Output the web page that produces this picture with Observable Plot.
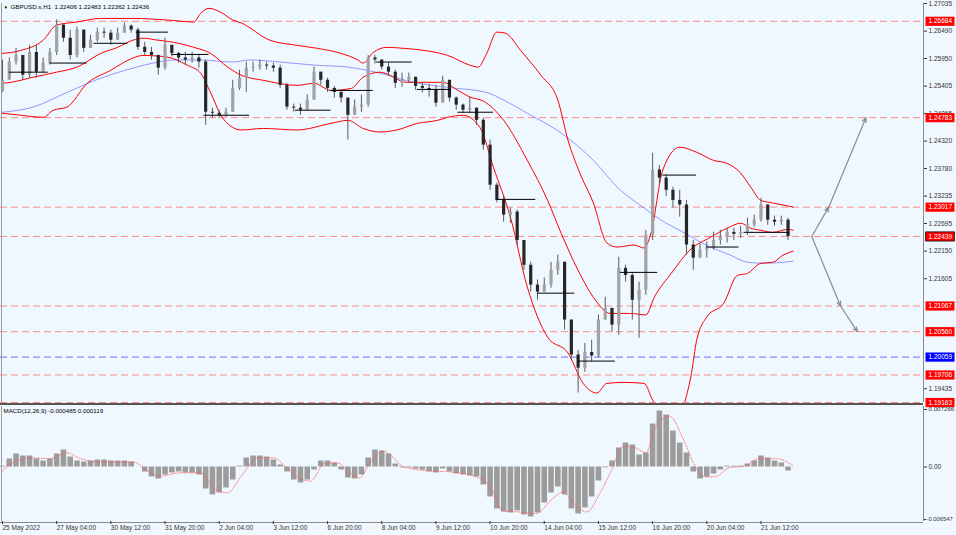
<!DOCTYPE html>
<html><head><meta charset="utf-8">
<script src="https://cdn.jsdelivr.net/npm/d3@7"></script>
<script src="https://cdn.jsdelivr.net/npm/@observablehq/plot@0.6"></script>
<style>
html,body{margin:0;padding:0;background:#f0f8ff;}
#wrap{width:956px;height:535px;background:#f0f8ff;overflow:hidden;}
#wrap svg{display:block;}
</style></head>
<body><div id="wrap"></div>
<script>
// ---------- DATA (H1 GBPUSD, sampled every 4 bars) ----------
const firstOpen = 1.2530;
const closes = [
1.2552,1.2588,1.2601,1.2562,1.2607,1.2568,1.2586,1.2607,1.2661,1.2635,
1.2601,1.2651,1.2615,1.2631,1.2647,1.2645,1.2631,1.2645,1.2659,1.2651,
1.2617,1.2607,1.2601,1.2576,1.2621,1.2605,1.2596,1.2592,1.2596,1.2588,
1.2489,1.2487,1.2483,1.2489,1.2536,1.2556,1.2576,1.2578,1.2582,1.2580,
1.2576,1.2542,1.2499,1.2497,1.2493,1.2513,1.2568,1.2552,1.2536,1.2528,
1.2517,1.2483,1.2499,1.2503,1.2596,1.2592,1.2578,1.2568,1.2546,1.2552,
1.2558,1.2540,1.2536,1.2532,1.2507,1.2552,1.2517,1.2503,1.2493,1.2497,
1.2473,1.2424,1.2345,1.2315,1.2286,1.2292,1.2236,1.2187,1.2148,1.2134,
1.2148,1.2177,1.2193,1.2079,1.2010,1.1984,1.2015,1.2008,1.2079,1.2102,
1.2069,1.2181,1.2167,1.2118,1.2138,1.2246,1.2375,1.2359,1.2335,1.2315,
1.2306,1.2227,1.2201,1.2217,1.2221,1.2236,1.2242,1.2252,1.2248,1.2252,
1.2266,1.2276,1.2306,1.2276,1.2272,1.2276,1.22436];
const highs = [
1.2592,1.2596,1.2615,1.2601,1.2621,1.2621,1.2596,1.2615,1.2671,1.2661,
1.2651,1.2657,1.2651,1.2641,1.2655,1.2655,1.2651,1.2655,1.2665,1.2661,
1.2655,1.2627,1.2617,1.2601,1.2635,1.2621,1.2607,1.2607,1.2607,1.2601,
1.2592,1.2497,1.2493,1.2497,1.2552,1.2572,1.2588,1.2588,1.2592,1.2588,
1.2586,1.2582,1.2546,1.2505,1.2505,1.2523,1.2578,1.2568,1.2556,1.2540,
1.2532,1.2513,1.2513,1.2523,1.2601,1.2601,1.2592,1.2586,1.2572,1.2566,
1.2566,1.2552,1.2546,1.2544,1.2542,1.2560,1.2552,1.2519,1.2505,1.2519,
1.2497,1.2477,1.2434,1.2349,1.2325,1.2300,1.2296,1.2236,1.2193,1.2158,
1.2162,1.2193,1.2207,1.2193,1.2079,1.2019,1.2033,1.2039,1.2089,1.2124,
1.2089,1.2203,1.2187,1.2173,1.2154,1.2256,1.2408,1.2384,1.2365,1.2341,
1.2335,1.2315,1.2236,1.2229,1.2233,1.2252,1.2256,1.2260,1.2260,1.2264,
1.2280,1.2286,1.2319,1.2300,1.2284,1.2284,1.2280];
const lows = [
1.2528,1.2568,1.2582,1.2552,1.2556,1.2556,1.2572,1.2582,1.2601,1.2627,
1.2592,1.2596,1.2607,1.2615,1.2627,1.2635,1.2621,1.2635,1.2647,1.2645,
1.2611,1.2601,1.2592,1.2562,1.2572,1.2598,1.2586,1.2582,1.2586,1.2576,
1.2463,1.2477,1.2477,1.2479,1.2489,1.2532,1.2528,1.2568,1.2572,1.2572,
1.2568,1.2536,1.2493,1.2489,1.2483,1.2493,1.2513,1.2542,1.2528,1.2517,
1.2507,1.2434,1.2483,1.2489,1.2499,1.2584,1.2572,1.2560,1.2536,1.2538,
1.2546,1.2532,1.2527,1.2519,1.2499,1.2513,1.2509,1.2493,1.2487,1.2487,
1.2463,1.2414,1.2335,1.2310,1.2272,1.2270,1.2227,1.2177,1.2134,1.2118,
1.2134,1.2142,1.2167,1.2059,1.2000,1.1935,1.1976,1.1996,1.2004,1.2083,
1.2055,1.2049,1.2154,1.2079,1.2043,1.2128,1.2236,1.2345,1.2323,1.2300,
1.2282,1.2207,1.2177,1.2201,1.2201,1.2217,1.2227,1.2231,1.2236,1.2240,
1.2246,1.2262,1.2272,1.2266,1.2264,1.2266,1.2236];
const barsPerSample = 4;

// Bollinger bands & moving average: [bar, price]
const bbUpper = [[0,1.2605],[11,1.2611],[24,1.2631],[32,1.2661],[44,1.2667],[58,1.2674],[77,1.2674],[97,1.2671],[113,1.2667],[117,1.2684],[122,1.2694],[129,1.2686],[136,1.2671],[141,1.2665],[158,1.2631],[174,1.2621],[186,1.2615],[200,1.2605],[210,1.2592],[213,1.2586],[219,1.2607],[227,1.2617],[237,1.2615],[249,1.2611],[263,1.2601],[276,1.2582],[281,1.2578],[286,1.2605],[292,1.2647],[297,1.2645],[306,1.2611],[318,1.2562],[328,1.2513],[334,1.2434],[341,1.2369],[349,1.2310],[357,1.2231],[363,1.2223],[373,1.2227],[379,1.2221],[383,1.2250],[390,1.2375],[400,1.2420],[410,1.2410],[420,1.2394],[428,1.2388],[436,1.2369],[442,1.2341],[448,1.2315],[455,1.2310],[467,1.2302]];
const bbMiddle = [[0,1.2546],[5,1.2548],[18,1.2558],[32,1.2568],[44,1.2578],[58,1.2605],[68,1.2617],[77,1.2631],[83,1.2635],[92,1.2631],[101,1.2627],[113,1.2617],[123,1.2605],[133,1.2578],[141,1.2562],[154,1.2552],[174,1.2542],[184,1.2546],[194,1.2532],[206,1.2536],[213,1.2558],[223,1.2568],[239,1.2548],[260,1.2548],[269,1.2532],[276,1.2519],[284,1.2511],[296,1.2473],[310,1.2394],[322,1.2315],[330,1.2250],[340,1.2177],[349,1.2124],[359,1.2092],[371,1.2092],[380,1.2089],[385,1.2124],[395,1.2171],[406,1.2217],[418,1.2242],[428,1.2260],[436,1.2270],[442,1.2260],[448,1.2256],[455,1.2252],[464,1.2258],[467,1.2256]];
const bbLower = [[0,1.2487],[11,1.2483],[24,1.2479],[30,1.2493],[38,1.2499],[50,1.2546],[64,1.2572],[71,1.2586],[77,1.2596],[83,1.2601],[97,1.2598],[109,1.2582],[117,1.2566],[123,1.2527],[129,1.2483],[136,1.2459],[141,1.2454],[154,1.2457],[174,1.2454],[194,1.2467],[204,1.2473],[213,1.2457],[223,1.2450],[233,1.2454],[245,1.2467],[257,1.2473],[263,1.2479],[272,1.2483],[282,1.2459],[290,1.2380],[300,1.2282],[310,1.2144],[322,1.2045],[334,1.2014],[343,1.1954],[351,1.1935],[357,1.1954],[367,1.1956],[379,1.1954],[384,1.1921],[392,1.1891],[400,1.1885],[403,1.1917],[407,1.1975],[410,1.2039],[416,1.2085],[426,1.2112],[434,1.2167],[440,1.2171],[448,1.2191],[455,1.2193],[461,1.2207],[467,1.2215]];
const maLine = [[0,1.2489],[18,1.2499],[38,1.2528],[58,1.2556],[77,1.2576],[92,1.2588],[101,1.2592],[117,1.2592],[136,1.2588],[146,1.2592],[164,1.2588],[184,1.2582],[204,1.2578],[223,1.2566],[243,1.2548],[263,1.2538],[286,1.2528],[296,1.2513],[310,1.2487],[330,1.2448],[349,1.2394],[365,1.2335],[371,1.2319],[379,1.2300],[389,1.2276],[400,1.2256],[418,1.2223],[430,1.2207],[440,1.2193],[450,1.2191],[467,1.2195]];

// daily pivot segments
const segStart = [4,28,54,79,100,119,173,194,221,245,269,292,316,340,365,390,416,438];
const segEnd   = [27,50,74,98,122,146,194,219,242,265,290,315,338,362,387,410,435,465];
const segPrice = [1.2568,1.2586,1.2625,1.2647,1.2603,1.2483,1.2493,1.2532,1.2588,1.2534,1.2489,1.2317,1.2132,1.1998,1.2173,1.2365,1.2223,1.2252];

// horizontal levels
const redLevels = [1.26684,1.24783,1.23017,1.22439,1.21067,1.20560,1.19706,1.19163];
const blueLevels = [1.20059];
const bidLevel = 1.22439;

// projection arrows
const arrowFrom = [478,1.22439];
const arrowUp = [[488,1.23017],[510,1.24783]];
const arrowDown = [[495,1.21067],[505,1.20560]];

// price axis ticks
const priceTicks = [1.27035,1.26490,1.25950,1.25405,1.24865,1.24320,1.23780,1.23235,1.22695,1.22150,1.21605,1.19435];

// MACD histogram (per sample) and signal line [bar, value]
const macdHist = [
0.0001,0.00096,0.00156,0.00132,0.00132,0.00096,0.00072,0.00096,0.00156,0.00204,
0.0012,0.00072,0.0006,0.00072,0.00084,0.00084,0.00072,0.00072,0.00072,0.0006,
0,-0.0006,-0.0012,-0.00144,-0.00096,-0.00072,-0.0006,-0.00072,-0.00072,-0.00096,
-0.00264,-0.00336,-0.00312,-0.00252,-0.00156,0.0001,0.00108,0.00132,0.00132,0.0012,
0.00084,0.00024,-0.0006,-0.00156,-0.00192,-0.00156,-0.00036,0.00072,0.00072,0.00048,
-0.00036,-0.00132,-0.00144,-0.00096,0.00108,0.00204,0.00192,0.00156,0.00036,-0.0001,
-0.0001,-0.00024,-0.00036,-0.0006,-0.00072,-0.00024,-0.0006,-0.00084,-0.00096,-0.00108,
-0.0012,-0.00216,-0.0036,-0.00504,-0.0054,-0.00552,-0.00528,-0.00576,-0.006,-0.00552,
-0.00432,-0.00312,-0.0024,-0.00336,-0.00504,-0.00564,-0.00492,-0.0036,-0.00168,-0.0001,
0.00072,0.00228,0.00288,0.00264,0.00144,0.00168,0.00516,0.00672,0.00624,0.00432,
0.00288,0.00168,-0.0006,-0.00144,-0.0012,-0.00084,-0.00036,0.0001,0.0001,0.0001,
0.00036,0.00072,0.00132,0.00108,0.00072,0.00048,-0.000485];
const macdSignal = [[0,-0.0005],[5,0.0004],[17,0.0011],[28,0.0010],[38,0.0017],[46,0.0010],[58,0.0006],[77,0.0006],[86,-0.0005],[93,-0.0011],[105,-0.0007],[117,-0.0007],[125,-0.0026],[133,-0.0031],[141,-0.0011],[151,0.0011],[160,0.0011],[168,-0.0001],[176,-0.0014],[182,-0.0017],[190,0.0004],[198,0.0005],[204,-0.0005],[211,-0.0013],[217,0.0005],[225,0.0019],[231,0.0011],[237,0],[255,-0.0005],[265,-0.0006],[280,-0.0012],[288,-0.0023],[296,-0.0053],[305,-0.0054],[315,-0.0056],[325,-0.0038],[331,-0.0030],[339,-0.0047],[345,-0.0054],[353,-0.0031],[359,-0.0007],[367,0.0025],[374,0.0023],[380,0.0017],[386,0.0049],[394,0.0061],[402,0.0034],[410,-0.0002],[416,-0.0012],[422,-0.0011],[429,-0.0001],[438,0.0001],[447,0.0010],[457,0.0010],[465,0.0004],[467,0.000119]];
const macdTicks = [0.007266, 0, -0.006547];
const macdTickText = ["0.007266","0.00","-0.006547"];

// time axis
const timeTickBars = [0,32,64,96,128,160,192,224,256,288,320,352,384,416,448];
const timeTickLabels = ["25 May 2022","27 May 04:00","30 May 12:00","31 May 20:00","2 Jun 04:00","3 Jun 12:00","6 Jun 20:00","8 Jun 04:00","9 Jun 12:00","10 Jun 20:00","14 Jun 04:00","15 Jun 12:00","16 Jun 20:00","20 Jun 04:00","21 Jun 12:00"];

const titleText = "GBPUSD.s,H1  1.22406 1.22483 1.22362 1.22436";
const macdTitle = "MACD(12,26,9) -0.000485 0.000119";

// ---------- BUILD ----------
const xDomain = [-1.18, 544.0];
const xMax = xDomain[1];
const candles = closes.map((c, k) => {
  const o = k === 0 ? firstOpen : closes[k - 1];
  return {bar: k * barsPerSample, open: o, close: c,
          high: Math.max(highs[k], o, c), low: Math.min(lows[k], o, c)};
});
const segs = segStart.map((s, i) => ({s, e: segEnd[i], p: segPrice[i]}));
const levelRows = [
  ...redLevels.map(p => ({p, bg: "#ff0000", st: p === bidLevel ? "#111" : "none"})),
  ...blueLevels.map(p => ({p, bg: "#0000ff", st: "none"}))
];
const arrows = [];
[arrowUp, arrowDown].forEach(path => {
  let prev = arrowFrom;
  path.forEach(pt => { arrows.push({b1: prev[0], p1: prev[1], b2: pt[0], p2: pt[1]}); prev = pt; });
});
const labelBox = {draw(ctx) { ctx.moveTo(0,-4.6); ctx.lineTo(29,-4.6); ctx.lineTo(29,4.6); ctx.lineTo(0,4.6); ctx.closePath(); }};
const font = "Liberation Sans, Arial, sans-serif";
const tickLabelMap = new Map(timeTickBars.map((b, i) => [b, timeTickLabels[i]]));
const macdLabelMap = new Map(macdTicks.map((v, i) => [v, macdTickText[i]]));

const price = Plot.plot({
  width: 956, height: 404,
  marginLeft: 0, marginRight: 33, marginTop: 3, marginBottom: 2,
  style: {background: "#f0f8ff", fontFamily: font, fontSize: "6.5px", overflow: "visible"},
  x: {domain: xDomain, axis: null},
  y: {domain: [1.19163, 1.27035], axis: null},
  marks: [
    Plot.ruleY(redLevels, {stroke: "#ff8a8a", strokeWidth: 1, strokeDasharray: "7,4"}),
    Plot.ruleY(blueLevels, {stroke: "#6d6dff", strokeWidth: 1, strokeDasharray: "7,4"}),
    Plot.line(maLine, {x: d => d[0], y: d => d[1], stroke: "#7c7cff", strokeWidth: 0.8, curve: "monotone-x", clip: true}),
    Plot.line(bbUpper, {x: d => d[0], y: d => d[1], stroke: "#ff0000", strokeWidth: 1, curve: "monotone-x", clip: true}),
    Plot.line(bbMiddle, {x: d => d[0], y: d => d[1], stroke: "#ff0000", strokeWidth: 1, curve: "monotone-x", clip: true}),
    Plot.line(bbLower, {x: d => d[0], y: d => d[1], stroke: "#ff0000", strokeWidth: 1, curve: "monotone-x", clip: true}),
    Plot.ruleX(candles, {x: "bar", y1: "low", y2: "high", stroke: "#5a5a5a", strokeWidth: 1}),
    Plot.ruleX(candles, {x: "bar", y1: "open", y2: "close", stroke: d => d.close >= d.open ? "#a2a2a2" : "#262626", strokeWidth: 3.2}),
    Plot.ruleY(segs, {x1: "s", x2: "e", y: "p", stroke: "#000", strokeWidth: 1}),
    Plot.arrow(arrows, {x1: "b1", y1: "p1", x2: "b2", y2: "p2", stroke: "#8c8c8c", strokeWidth: 1.2, headLength: 6, headAngle: 45}),
    Plot.ruleX([xDomain[0] + 0.6], {stroke: "#9a9a9a"}),
    Plot.ruleX([xMax], {stroke: "#8a8a8a"}),
    Plot.ruleY([1.19163], {stroke: "#555", strokeWidth: 1.2, dy: 1}),
    Plot.axisY(priceTicks, {anchor: "right", label: null, tickSize: 3, tickPadding: 2, tickFormat: d => d.toFixed(5), fontSize: 6.5, color: "#333"}),
    Plot.dot(levelRows, {x: () => xMax, y: "p", symbol: labelBox, fill: "bg", stroke: "st", strokeWidth: 0.8, dx: 2}),
    Plot.text(levelRows, {x: () => xMax, y: "p", text: d => d.p.toFixed(5), dx: 5, textAnchor: "start", fill: "white", fontSize: 6.5}),
    Plot.text([titleText], {frameAnchor: "top-left", dx: 10, dy: 1.5, lineAnchor: "top", textAnchor: "start", fill: "#000", fontSize: 6.2}),
    Plot.text(["▼"], {frameAnchor: "top-left", dx: 3, dy: 2, lineAnchor: "top", textAnchor: "start", fill: "#000", fontSize: 4.5})
  ]
});

const macdRows = macdHist.map((v, k) => ({bar: k * barsPerSample, v}));
const macd = Plot.plot({
  width: 956, height: 131,
  marginLeft: 0, marginRight: 33, marginTop: 2, marginBottom: 14,
  style: {background: "#f0f8ff", fontFamily: font, fontSize: "6.5px", overflow: "visible"},
  x: {domain: xDomain, axis: null},
  y: {domain: [-0.006547, 0.007266], axis: null},
  marks: [
    Plot.ruleX(macdRows, {x: "bar", y1: 0, y2: "v", stroke: "#9c9c9c", strokeWidth: 5.6}),
    Plot.line(macdSignal, {x: d => d[0], y: d => d[1], stroke: "#ff5a5a", strokeWidth: 0.8, strokeDasharray: "1,1.5", curve: "monotone-x"}),
    Plot.ruleY([0.007266], {stroke: "#555", strokeWidth: 1, dy: -2}),
    Plot.ruleY([-0.006547], {stroke: "#8a8a8a", strokeWidth: 1, dy: 1}),
    Plot.ruleX([xDomain[0] + 0.6], {stroke: "#9a9a9a"}),
    Plot.ruleX([xMax], {stroke: "#8a8a8a"}),
    Plot.axisY(macdTicks.slice(1, 2), {anchor: "right", label: null, tickSize: 3, tickPadding: 2, tickFormat: d => macdLabelMap.get(d), fontSize: 6.5, color: "#333"}),
    Plot.axisY(macdTicks.slice(0, 1), {anchor: "right", label: null, tickSize: 3, tickPadding: 2, tickFormat: d => macdLabelMap.get(d), fontSize: 6.2, color: "#333", dy: 3}),
    Plot.axisY(macdTicks.slice(2), {anchor: "right", label: null, tickSize: 2, tickPadding: 1, tickFormat: d => macdLabelMap.get(d), fontSize: 5.8, color: "#333", dy: -2}),
    Plot.axisX(timeTickBars, {anchor: "bottom", label: null, tickSize: 3, tickPadding: 1, tickFormat: d => tickLabelMap.get(d), textAnchor: "start", fontSize: 6.5, color: "#333"}),
    Plot.text([macdTitle], {frameAnchor: "top-left", dx: 3, dy: 2, lineAnchor: "top", textAnchor: "start", fill: "#000", fontSize: 6.2})
  ]
});

const wrap = document.getElementById("wrap");
wrap.appendChild(price);
wrap.appendChild(macd);
</script>
</body></html>
